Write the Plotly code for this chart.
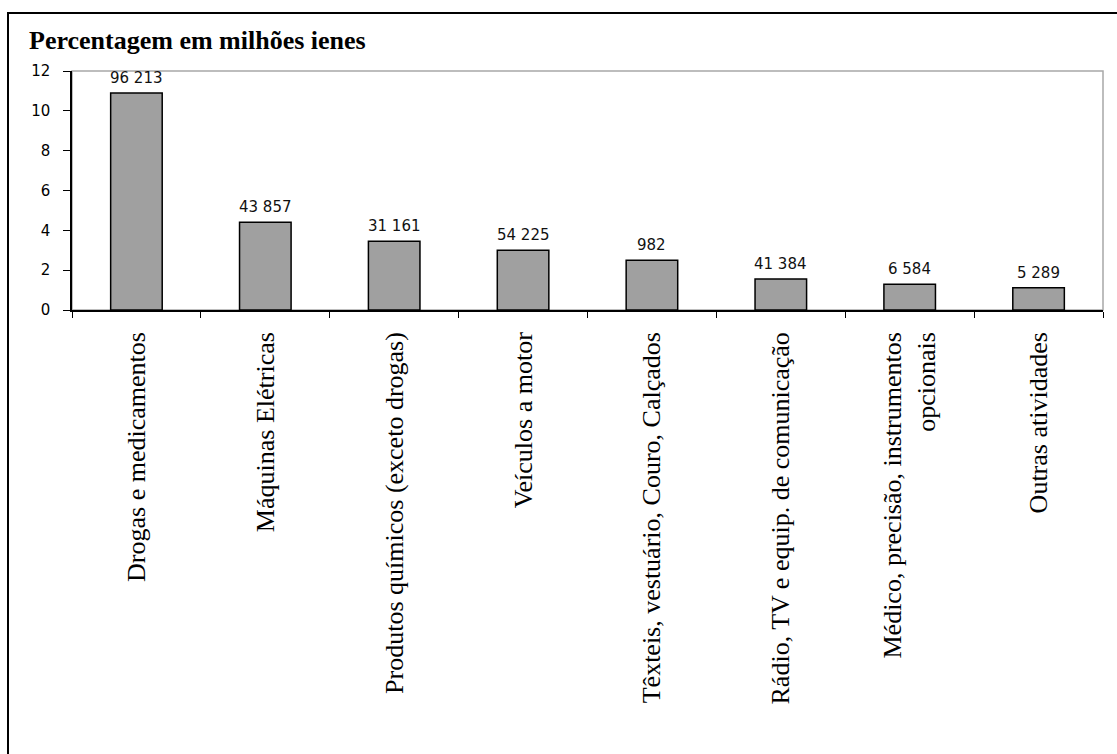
import plotly.graph_objects as go

# Sector categories (x axis)
categorias = [
    "Drogas e medicamentos",
    "Máquinas Elétricas",
    "Produtos químicos (exceto drogas)",
    "Veículos a motor",
    "Têxteis, vestuário, Couro, Calçados",
    "Rádio, TV e equip. de comunicação",
    "Médico, precisão, instrumentos<br>opcionais",
    "Outras atividades",
]

# Percentage values (bar heights)
percentagem = [10.9, 4.4, 3.45, 3.0, 2.5, 1.56, 1.29, 1.12]

# Amounts in millions of yen shown above each bar
milhoes_ienes = ["96 213", "43 857", "31 161", "54 225",
                 "982", "41 384", "6 584", "5 289"]

y_ticks = [0, 2, 4, 6, 8, 10, 12]

fig = go.Figure(
    go.Bar(
        x=categorias,
        y=percentagem,
        marker=dict(color="#a0a0a0", line=dict(color="#000000", width=1.5)),
        hoverinfo="skip",
    )
)

W, H = 1117, 754
L, R, T, B = 72, 14, 71, 444
pw, ph = W - L - R, H - T - B

def px_x(x):
    return (x - L) / pw

def px_y(y):
    return 1 - (y - T) / ph

# value labels above each bar
annotations = [
    dict(
        x=c, y=v, xref="x", yref="y",
        text=t, showarrow=False,
        xanchor="center", yanchor="bottom", yshift=4,
        font=dict(family="DejaVu Sans", size=15, color="#111111"),
    )
    for c, v, t in zip(categorias, percentagem, milhoes_ienes)
]

annotations.append(
    dict(
        text="<b>Percentagem em milhões ienes</b>",
        xref="paper", yref="paper",
        x=px_x(27), y=px_y(40),
        xanchor="left", yanchor="middle",
        showarrow=False,
        font=dict(family="Liberation Serif, Times New Roman", size=26, color="#000000"),
    )
)

fig.update_layout(
    width=W,
    height=H,
    margin=dict(l=L, r=R, t=T, b=B, pad=0),
    paper_bgcolor="white",
    plot_bgcolor="white",
    showlegend=False,
    bargap=0.6,
    xaxis=dict(
        type="category",
        showline=True,
        linecolor="#000000",
        linewidth=1.5,
        ticks="outside",
        ticklen=6,
        tickcolor="#000000",
        tickson="boundaries",
        tickangle=-90,
        ticklabelstandoff=10,
        tickfont=dict(family="Liberation Serif, Times New Roman", size=26, color="#000000"),
        showgrid=False,
        zeroline=False,
    ),
    yaxis=dict(
        range=[0, 12],
        tickvals=y_ticks,
        showline=True,
        linecolor="#000000",
        linewidth=1.5,
        ticks="outside",
        ticklen=7,
        tickcolor="#000000",
        ticklabelstandoff=10,
        tickfont=dict(family="DejaVu Sans", size=15, color="#000000"),
        showgrid=False,
        zeroline=False,
    ),
    annotations=annotations,
    shapes=[
        # outer frame
        dict(type="rect", xref="paper", yref="paper",
             x0=px_x(8), y0=px_y(800), x1=px_x(1130), y1=px_y(13),
             line=dict(color="#000000", width=2), layer="below"),
        # plot area border (top and right in gray)
        dict(type="rect", xref="paper", yref="paper",
             x0=0, y0=0, x1=1, y1=1,
             line=dict(color="#a8a8a8", width=1.5), layer="below"),
    ],
)

fig.write_html("out.html")
